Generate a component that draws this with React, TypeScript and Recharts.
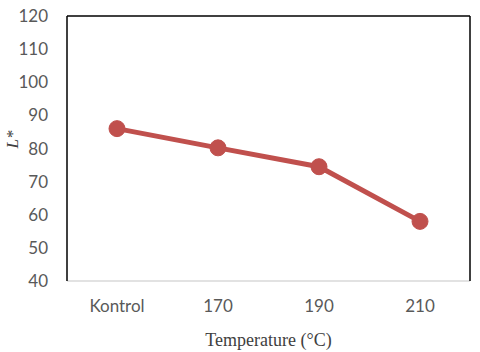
import React from 'react';
import { LineChart, Line, XAxis, YAxis, ReferenceLine } from 'recharts';

const categories = ['Kontrol', '170', '190', '210'];
const lValues = [86, 80.2, 74.5, 58];
const yTicks = [40, 50, 60, 70, 80, 90, 100, 110, 120];

const data = categories.map((c, i) => ({ temp: c, l: lValues[i] }));

const tickStyle = { fontSize: 17, fill: '#595959', fontFamily: 'Lato, "Open Sans", sans-serif' };

export default function App() {
  return (
    <div style={{ position: 'absolute', left: 0, top: 0, background: '#fff' }}>
      <LineChart width={480} height={352} data={data} margin={{ top: 16, right: 0, left: 0, bottom: 0 }}>
        <XAxis
          dataKey="temp"
          padding={{ left: 50, right: 50 }}
          tickLine={false}
          tickSize={0}
          tickMargin={19}
          axisLine={{ stroke: '#d9d9d9', strokeWidth: 1.5 }}
          tick={tickStyle}
          height={71}
          label={{
            value: 'Temperature (°C)',
            position: 'insideBottom',
            offset: 6,
            style: { fontFamily: '"Liberation Serif", "DejaVu Serif", serif', fontSize: 18, fill: '#404040' },
          }}
        />
        <YAxis
          yAxisId="left"
          domain={[40, 120]}
          ticks={yTicks}
          interval={0}
          tickLine={false}
          tickSize={0}
          tickMargin={19}
          axisLine={{ stroke: '#000', strokeWidth: 1.5 }}
          tick={tickStyle}
          width={67}
          label={{
            value: 'L*',
            angle: -90,
            position: 'insideLeft',
            offset: 12,
            style: { fontFamily: '"Liberation Serif", serif', fontStyle: 'italic', fontSize: 17, fill: '#404040' },
          }}
        />
        <YAxis
          yAxisId="right"
          orientation="right"
          domain={[40, 120]}
          tick={false}
          tickLine={false}
          width={10}
          axisLine={{ stroke: '#000', strokeWidth: 1.5 }}
        />
        <ReferenceLine yAxisId="left" y={120} stroke="#000" strokeWidth={1.5} />
        <Line
          yAxisId="left"
          dataKey="l"
          stroke="#C0504D"
          strokeWidth={5}
          dot={{ r: 8, fill: '#C0504D', stroke: '#C0504D', strokeWidth: 1 }}
          isAnimationActive={false}
        />
      </LineChart>
    </div>
  );
}
